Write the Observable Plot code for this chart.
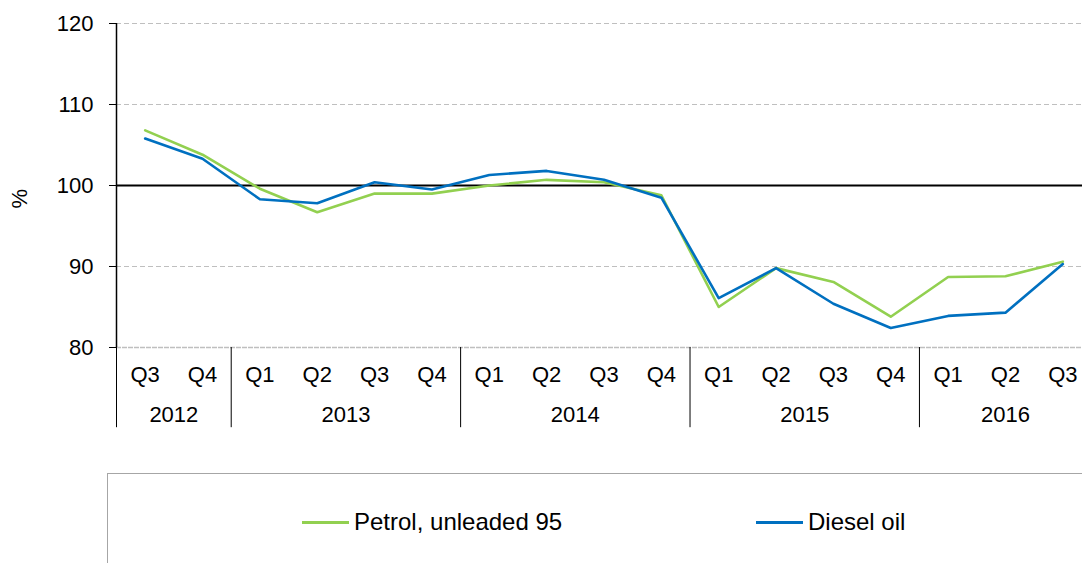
<!DOCTYPE html>
<html>
<head>
<meta charset="utf-8">
<script src="https://cdn.jsdelivr.net/npm/d3@7"></script>
<script src="https://cdn.jsdelivr.net/npm/@observablehq/plot@0.6"></script>
<style>
  html, body { margin: 0; padding: 0; background: #fff; overflow: hidden; }
  body { width: 1082px; height: 563px; position: relative; font-family: "Liberation Sans", Arial, sans-serif; }
  #chart { position: absolute; left: 0; top: 0; }
  #legend { position: absolute; left: 107px; top: 473px; width: 1100px; height: 200px;
            border: 1.5px solid #a6a6a6; box-sizing: border-box; }
  .item { position: absolute; top: 508px; display: flex; align-items: center; font-size: 24px; color: #000; white-space: nowrap; }
  .sw { display: inline-block; width: 47px; height: 3px; margin-right: 5px; }
</style>
</head>
<body>
<div id="chart"></div>
<div id="legend"></div>
<div class="item" style="left:302px"><span class="sw" style="background:#92D050"></span><span id="lab0"></span></div>
<div class="item" style="left:756px"><span class="sw" style="background:#0070C0"></span><span id="lab1"></span></div>
<script>
const quarters = ["Q3","Q4","Q1","Q2","Q3","Q4","Q1","Q2","Q3","Q4","Q1","Q2","Q3","Q4","Q1","Q2","Q3"];
const years = [2012,2012,2013,2013,2013,2013,2014,2014,2014,2014,2015,2015,2015,2015,2016,2016,2016];
const petrol = [106.8,103.8,99.6,96.7,99.0,99.0,100.0,100.7,100.4,98.8,85.0,89.8,88.1,83.8,88.7,88.8,90.6];
const diesel = [105.8,103.3,98.3,97.8,100.4,99.5,101.3,101.8,100.7,98.5,86.1,89.8,85.4,82.4,83.9,84.3,90.3];
const seriesNames = ["Petrol, unleaded 95", "Diesel oil"];
const seriesColors = ["#92D050", "#0070C0"];
const yTicks = [80, 90, 100, 110, 120];
const gridTicks = [90, 110, 120];
const refValue = 100;
const yLabel = "%";

const rows = quarters.map((q, i) => ({i, q, year: years[i], petrol: petrol[i], diesel: diesel[i]}));
const groups = d3.rollups(rows, v => ({
  center: d3.mean(v, d => d.i),
  start: d3.min(v, d => d.i) - 0.5
}), d => d.year).map(([year, o]) => ({year: String(year), ...o}));
const xMin = d3.min(rows, d => d.i) - 0.5;
const xMax = d3.max(rows, d => d.i) + 0.5;
const yMin = d3.min(yTicks), yMax = d3.max(yTicks);

const chart = Plot.plot({
  width: 1082,
  height: 563,
  marginLeft: 116,
  marginRight: 0,
  marginTop: 23,
  marginBottom: 216,
  x: {type: "linear", domain: [xMin, xMax], range: [116, 1091], axis: null},
  y: {domain: [yMin, yMax], axis: null},
  style: {fontFamily: "'Liberation Sans', Arial, sans-serif", fontSize: "22px", color: "#000", background: "transparent", overflow: "visible"},
  marks: [
    Plot.ruleY(gridTicks, {stroke: "#bfbfbf", strokeWidth: 1.2, strokeDasharray: "5,3"}),
    Plot.ruleY([yMin], {stroke: "#bfbfbf", strokeWidth: 1.6, strokeDasharray: "5,1"}),
    Plot.ruleY([refValue], {stroke: "#000", strokeWidth: 2}),
    Plot.axisY(yTicks, {tickSize: 7, tickPadding: 16, fontSize: 22, label: null, stroke: "#000"}),
    Plot.ruleX([xMin], {y1: yMin, y2: yMax, stroke: "#000", strokeWidth: 1.5}),
    Plot.ruleX(groups, {x: "start", y1: yMin, y2: yMin - 9.9, stroke: "#000", strokeWidth: 1}),
    Plot.text(rows, {x: "i", y: yMin, dy: 27, text: "q", fontSize: 22}),
    Plot.text(groups, {x: "center", y: yMin, dy: 67, text: "year", fontSize: 22}),
    Plot.text([yLabel], {frameAnchor: "left", dx: -97, dy: 23, rotate: -90, fontSize: 22}),
    Plot.line(rows, {x: "i", y: "petrol", stroke: seriesColors[0], strokeWidth: 2.6}),
    Plot.line(rows, {x: "i", y: "diesel", stroke: seriesColors[1], strokeWidth: 2.6})
  ]
});
document.getElementById("chart").append(chart);
document.getElementById("lab0").textContent = seriesNames[0];
document.getElementById("lab1").textContent = seriesNames[1];
</script>
</body>
</html>
